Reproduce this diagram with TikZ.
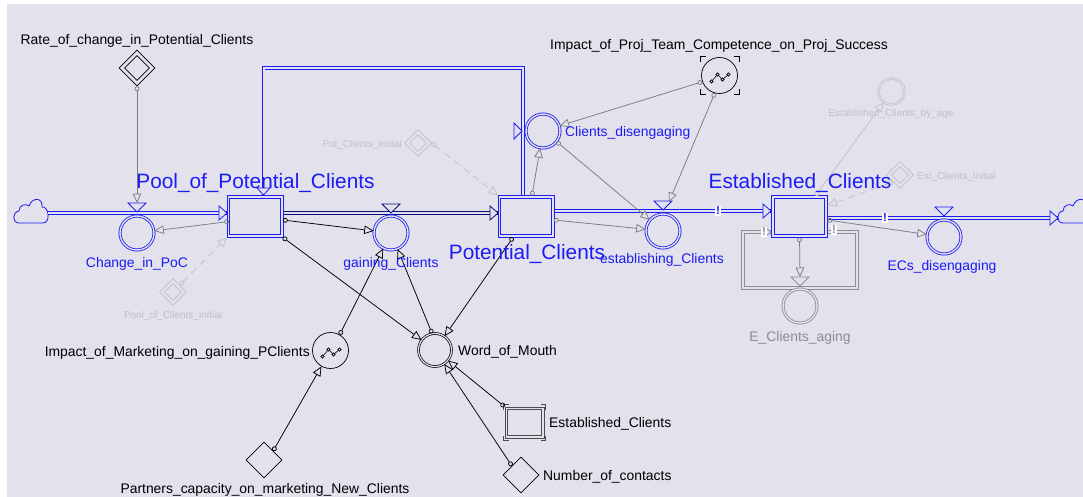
\documentclass[tikz,border=0pt]{standalone}
\usepackage{fontspec}
\setmainfont{Liberation Sans}
\usetikzlibrary{arrows.meta,shapes.geometric,calc}
\definecolor{lav}{RGB}{226,225,236}
\definecolor{blueC}{RGB}{28,28,245}
\definecolor{navyC}{RGB}{12,12,125}
\definecolor{grayC}{RGB}{125,125,128}
\definecolor{ghost}{RGB}{192,192,198}
\definecolor{agray}{RGB}{140,140,145}
\tikzset{
  lbl/.style={font=\fontsize{13.9}{16}\selectfont, inner sep=0pt},
  biglbl/.style={font=\fontsize{20.8}{24}\selectfont, inner sep=0pt, text=blueC},
  smalllbl/.style={font=\fontsize{9.9}{12}\selectfont, inner sep=0pt, text=ghost},
  stockbox/.style={draw=blueC, line width=0.9pt, minimum width=55pt, minimum height=41pt, inner sep=0pt},
  innerbox/.style={draw=blueC, line width=0.9pt},
  valve/.style={circle, draw=blueC, double=lav, double distance=1.4pt, line width=0.8pt, minimum size=34pt, inner sep=0pt},
  pipe/.style={draw=blueC, double=lav, double distance=2pt, line width=0.8pt},
  npipe/.style={draw=navyC, double=lav, double distance=2pt, line width=0.8pt},
  agpipe/.style={draw=agray, double=lav, double distance=2.2pt, line width=0.9pt, line join=miter},
  tri/.style={line width=0.8pt, fill=lav, line join=miter},
  dia/.style={diamond, draw, line width=0.7pt, inner sep=0pt},
  conn/.style={line width=0.75pt, {Circle[open,length=4.8pt,width=4.8pt]}-{Triangle[length=9.5pt,width=8.5pt,fill=lav]}},
  bconn/.style={conn, draw=black},
  gconn/.style={conn, draw=grayC},
  ghconn/.style={conn, draw=ghost},
  ghdash/.style={conn, draw=ghost, dash pattern=on 7pt off 5pt},
  bang/.style={fill=white, font=\fontsize{11.5}{12}\selectfont\bfseries, inner xsep=1pt, inner ysep=1.5pt},
  cloudpic/.pic={\draw[blueC, line width=0.8pt, fill=lav] (-12,12) .. controls (-19,12) and (-19,1) .. (-12,0) .. controls (-12,-6) and (-5,-8) .. (-2,-5) .. controls (1,-14) and (12,-14) .. (11,-4) .. controls (18,-5) and (20,12) .. (12,12) -- cycle;},
  graphicon/.pic={\draw[line width=0.6pt] (-8,6) -- (-2,-1) -- (3,4) -- (9,-1);
     \foreach \p in {(-8,6),(-2,-1),(3,4),(9,-1)} \draw[line width=0.6pt, fill=lav] \p circle (1.6pt);}
}
\begin{document}
\begin{tikzpicture}[x=1pt,y=-1pt]
\useasboundingbox (0,0) rectangle (1083,497);
\clip (0,0) rectangle (1083,497);
\fill[white] (0,0) rectangle (1083,497);
\fill[lav] (7,4) rectangle (1083,497);

% ---------- coordinates
\coordinate (cloudL) at (48,213);
\coordinate (lvl2) at (0,211);
\coordinate (lvl3) at (0,218);
\coordinate (cloudRtip) at (1058,218);
\coordinate (loopR) at (523,0);
\coordinate (loopTL) at (263.5,68);
\coordinate (agR) at (0,232);
\coordinate (chgTop) at (137,203);
\coordinate (estabTriR) at (669,202);
\coordinate (agTop) at (800,277);

% ---------- stocks
\node[stockbox] (pool) at (255,216.5) {};
\node[stockbox] (pot) at (526,216.5) {};
\node[stockbox] (est) at (799.5,216.5) {};

% ---------- clouds
\pic at (31,211) {cloudpic};
\pic at (1075,211) {cloudpic};

% ---------- pipes
\draw[pipe] (cloudL) -- (pool.west|-cloudL);
\draw[npipe] (pool.east|-cloudL) -- (pot.west|-cloudL);
\draw[pipe] (pot.east|-lvl2) -- (est.west|-lvl2);
\draw[pipe] (est.east|-lvl3) -- (cloudRtip);
\draw[pipe] (loopR|-pot.north) |- (loopTL) -- (loopTL|-pool.north);
\draw[agpipe] (est.east|-agR) -- (857,232) -- (857,288) -- (743,288) -- (743,232) -- (est.west|-agR);

% stock boxes redrawn on top of pipes, with inner frame
\foreach \s in {pool,pot,est} {
  \draw[innerbox, fill=lav] (\s.south west) rectangle (\s.north east);
  \draw[innerbox] ($(\s.south west)+(2.7,-2.7)$) rectangle ($(\s.north east)+(-2.7,2.7)$);
}

% ---------- valves
\node[valve] (chg) at (137,233) {};
\node[valve] (gain) at (391,233) {};
\node[valve] (estab) at (663,231) {};
\node[valve] (ecs) at (944,237) {};
\node[valve] (cdis) at (543,131) {};
\node[valve, draw=agray] (aging) at (800,306) {};

% valve triangles
\draw[tri, draw=blueC] (128,203) -- (146,203) -- (137,212) -- cycle;
\draw[tri, draw=navyC] (382,204) -- (400,204) -- (391,213) -- cycle;
\draw[tri, draw=blueC] (654,201) -- (672,201) -- (663,210) -- cycle;
\draw[tri, draw=blueC] (935,207) -- (953,207) -- (944,216) -- cycle;
\draw[tri, draw=agray] (791,277) -- (809,277) -- (800,286) -- cycle;
\draw[tri, draw=blueC] (514,123) -- (514,139) -- (522,131) -- cycle;

% pipe arrow heads
\draw[tri, draw=blueC] (219,206) -- (227,213) -- (219,220) -- cycle;
\draw[tri, draw=navyC] (490,206) -- (498,213) -- (490,220) -- cycle;
\draw[tri, draw=blueC] (763,204) -- (771,211) -- (763,218) -- cycle;
\draw[tri, draw=blueC] (1050,211) -- (1058,218) -- (1050,225) -- cycle;
\draw[tri, draw=blueC] (257,188) -- (270,188) -- (263.5,195) -- cycle;
\draw[tri, draw=agray] (766,228) -- (771,232) -- (766,236) -- cycle;

% ---------- bang markers
\node[bang, text=blueC] (b1) at (718,211) {!};
\node[bang, text=blueC] (b2) at (885,218) {!};
\node[bang, text=agray] (b3) at (764,232) {!};
\node[bang, text=agray] (b4) at (834,230) {!};

% ---------- auxiliaries / constants
\node[dia, minimum size=36pt] (rate) at (137,68) {};
\node[dia, minimum size=25pt] (ratei) at (rate) {};
\node[dia, draw=ghost, minimum size=27pt] (poci) at (173,292) {};
\node[dia, draw=ghost, minimum size=17pt] (pocii) at (poci) {};
\node[dia, draw=ghost, minimum size=27pt] (pci) at (418,143) {};
\node[dia, draw=ghost, minimum size=17pt] (pcii) at (pci) {};
\node[dia, draw=ghost, minimum size=27pt] (eci) at (900,175) {};
\node[dia, draw=ghost, minimum size=17pt] (ecii) at (eci) {};
\node[dia, minimum size=36pt] (partners) at (264,460) {};
\node[dia, minimum size=36pt] (num) at (521,475) {};

\node[circle, draw=black, double=lav, double distance=1.2pt, line width=0.7pt, minimum size=33pt, inner sep=0pt] (wom) at (435,350) {};
\node[circle, draw=black, line width=0.7pt, minimum size=36pt, inner sep=0pt] (imk) at (330.5,350.5) {};
\pic at (imk) {graphicon};
\node[circle, draw=black, line width=0.7pt, minimum size=36pt, inner sep=0pt] (ipj) at (719.5,75.5) {};
\pic at (ipj) {graphicon};
\draw[line width=0.9pt] ($(ipj)+(-14,-19)$) -- ++(-5.5,0) -- ++(0,5.5);
\draw[line width=0.9pt] ($(ipj)+(14,-19)$) -- ++(5.5,0) -- ++(0,5.5);
\draw[line width=0.9pt] ($(ipj)+(-14,19)$) -- ++(-5.5,0) -- ++(0,-5.5);
\draw[line width=0.9pt] ($(ipj)+(14,19)$) -- ++(5.5,0) -- ++(0,-5.5);
\node[circle, draw=ghost, double=lav, double distance=1pt, line width=0.7pt, minimum size=26pt, inner sep=0pt] (ecba) at (891.5,91.5) {};

\node[draw=black!70, line width=0.9pt, minimum width=39pt, minimum height=31pt, inner sep=0pt] (alias) at (524.5,422.5) {};
\draw[black!70, line width=0.9pt] ($(alias.south west)+(2.6,-2.6)$) rectangle ($(alias.north east)+(-2.6,2.6)$);
\draw[line width=0.8pt, black!70] ($(alias)+(-16,-18)$) -- ++(-5,0) -- ++(0,5);
\draw[line width=0.8pt, black!70] ($(alias)+(16,-18)$) -- ++(5,0) -- ++(0,5);
\draw[line width=0.8pt, black!70] ($(alias)+(-16,18)$) -- ++(-5,0) -- ++(0,-5);
\draw[line width=0.8pt, black!70] ($(alias)+(16,18)$) -- ++(5,0) -- ++(0,-5);

% ---------- connectors
\draw[gconn] (rate.south) -- (chgTop);
\draw[gconn] ($(pool.west)+(2,5)$) -- (chg);
\draw[ghdash] (poci.north east) -- (pool.south west);
\draw[bconn] ($(pool.east)+(0,3.5)$) -- (gain);
\draw[bconn] (pool.south east) -- (wom);
\draw[bconn] ($(pot.south)+(-13,0)$) -- (wom);
\draw[bconn] (wom.100) -- (gain);
\draw[bconn] (imk.60) -- (gain);
\draw[bconn] (partners.north east) -- (imk);
\draw[bconn] (alias.north west) -- (wom);
\draw[bconn] (num.north west) -- (wom);
\draw[ghdash] (pci.east) -- (pot.north west);
\draw[gconn] ($(pot.north)+(6,0)$) -- (cdis);
\draw[gconn] ($(pot.east)+(0,3.5)$) -- (estab);
\draw[gconn] (cdis.-38) -- (estab);
\draw[gconn] (ipj.200) -- (cdis);
\draw[gconn] (ipj.255) -- (estabTriR);
\draw[ghconn] ($(est.north)+(16,0)$) -- (ecba);
\draw[ghdash] (eci.south west) -- ($(est.east)+(0,-11)$);
\draw[gconn] ($(est.east)+(0,3.5)$) -- (ecs);
\draw[gconn] (est.south) -- (agTop);

% ---------- labels
\node[lbl, anchor=base] (lrate) at (137,45) {Rate\_of\_change\_in\_Potential\_Clients};
\node[biglbl, anchor=base] (lpool) at (255.5,188) {Pool\_of\_Potential\_Clients};
\node[lbl, text=blueC, anchor=base] (lchg) at (137,267) {Change\_in\_PoC};
\node[smalllbl, anchor=base] (lpoci) at (173,318) {Pool\_of\_Clients\_Initial};
\node[lbl, text=blueC, anchor=base] (lgain) at (391,267) {gaining\_Clients};
\node[biglbl, anchor=base] (lpot) at (527,259) {Potential\_Clients};
\node[lbl, text=blueC, anchor=base] (lestab) at (662,263) {establishing\_Clients};
\node[lbl, text=blueC, anchor=base west] (lcdis) at (565,137) {Clients\_disengaging};
\node[lbl, anchor=base] (lipj) at (719,50) {Impact\_of\_Proj\_Team\_Competence\_on\_Proj\_Success};
\node[biglbl, anchor=base] (lest) at (800,188) {Established\_Clients};
\node[smalllbl, anchor=base] (lecba) at (891,117) {Established\_Clients\_by\_age};
\node[smalllbl, anchor=base west] (leci) at (917,179) {Est\_Clients\_Initial};
\node[smalllbl, anchor=base east] (lpci) at (402,148) {Pot\_Clients\_Initial};
\node[lbl, text=blueC, anchor=base] (lecs) at (942,270) {ECs\_disengaging};
\node[lbl, text=agray, anchor=base] (laging) at (800,341) {E\_Clients\_aging};
\node[lbl, anchor=base east] (limk) at (310,356) {Impact\_of\_Marketing\_on\_gaining\_PClients};
\node[lbl, anchor=base west] (lwom) at (458,355) {Word\_of\_Mouth};
\node[lbl, anchor=base west] (lalias) at (549,427) {Established\_Clients};
\node[lbl, anchor=base west] (lnum) at (543,480) {Number\_of\_contacts};
\node[lbl, anchor=base] (lpartners) at (265,493) {Partners\_capacity\_on\_marketing\_New\_Clients};
\end{tikzpicture}
\end{document}
